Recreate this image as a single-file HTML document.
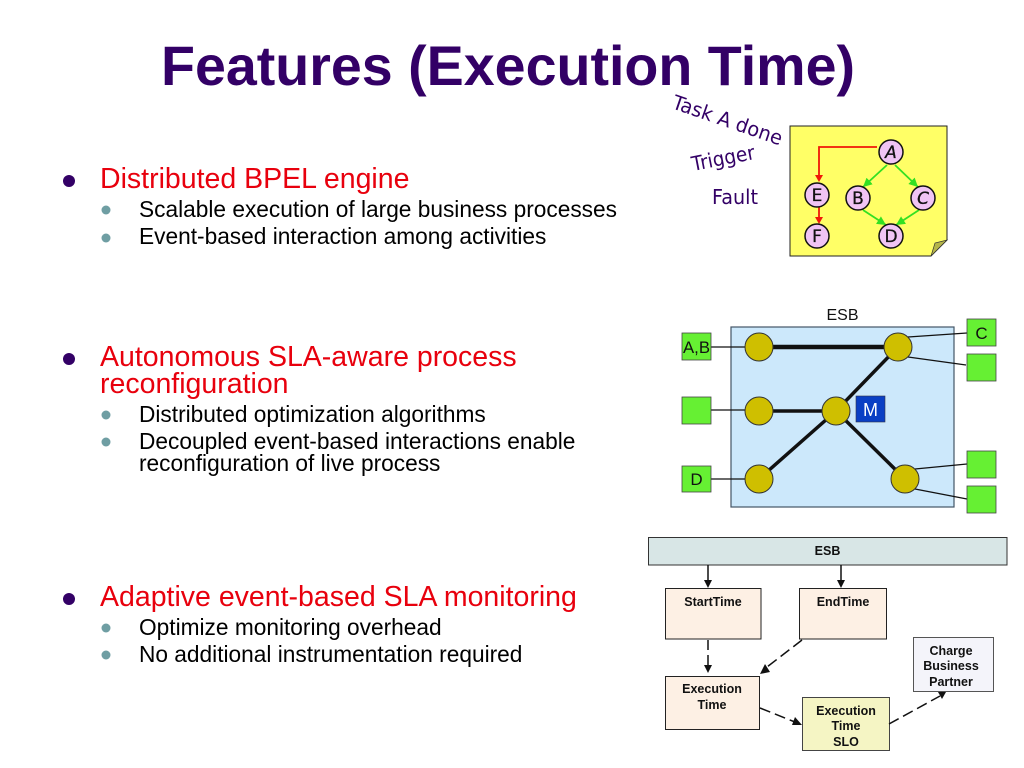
<!DOCTYPE html>
<html><head><meta charset="utf-8"><style>html,body{margin:0;padding:0;background:#fff;width:1024px;height:768px;overflow:hidden}svg{display:block}text{font-family:"Liberation Sans",sans-serif}.d{font-family:"DejaVu Sans",sans-serif}</style></head><body>
<svg width="1024" height="768" viewBox="0 0 1024 768" xmlns="http://www.w3.org/2000/svg">
<defs>
<marker id="g" markerUnits="userSpaceOnUse" markerWidth="10" markerHeight="10" refX="9" refY="5" orient="auto"><path d="M0,0.500L9,5L0,9.500z" fill="#33e022"/></marker>
</defs>
<text x="161" y="85" font-size="56" font-weight="bold" fill="#330066" textLength="694" lengthAdjust="spacingAndGlyphs">Features (Execution Time)</text>

<g fill="#330066"><circle cx="69" cy="181" r="6"/><circle cx="69" cy="359" r="6"/><circle cx="69" cy="599" r="6"/></g>
<g fill="#6f9ea3"><circle cx="106" cy="210" r="4.500"/><circle cx="106" cy="238" r="4.500"/><circle cx="106" cy="415" r="4.500"/><circle cx="106" cy="442" r="4.500"/><circle cx="106" cy="628" r="4.500"/><circle cx="106" cy="655" r="4.500"/></g>
<g font-size="28.500" fill="#e8000d">
<text x="100" y="188">Distributed BPEL engine</text>
<text x="100" y="366">Autonomous SLA-aware process</text>
<text x="100" y="393">reconfiguration</text>
<text x="100" y="606">Adaptive event-based SLA monitoring</text>
</g>
<g font-size="22.700" fill="#000">
<text x="139" y="217">Scalable execution of large business processes</text>
<text x="139" y="244">Event-based interaction among activities</text>
<text x="139" y="422">Distributed optimization algorithms</text>
<text x="139" y="449">Decoupled event-based interactions enable</text>
<text x="139" y="471">reconfiguration of live process</text>
<text x="139" y="635">Optimize monitoring overhead</text>
<text x="139" y="662">No additional instrumentation required</text>
</g>

<g fill="#330066" font-size="20">
<text class="d" transform="translate(671,108) rotate(19)" textLength="115" lengthAdjust="spacingAndGlyphs">Task A done</text>
<text class="d" transform="translate(693,171) rotate(-11)" textLength="64" lengthAdjust="spacingAndGlyphs">Trigger</text>
<text class="d" x="712" y="204" textLength="46" lengthAdjust="spacingAndGlyphs">Fault</text>
</g>
<path d="M790,126H947V240L931,256H790z" fill="#ffff66" stroke="#222" stroke-width="1"/>
<path d="M931,256L935,243L947,240z" fill="#b5b54a" stroke="#333" stroke-width="0.700"/>
<path d="M877,147H819V176" fill="none" stroke="#f01808" stroke-width="1.800"/>
<path d="M815,175H823L819,182z" fill="#f01808"/>
<path d="M819,206V218" stroke="#f01808" stroke-width="1.800"/>
<path d="M815,217H823L819,224z" fill="#f01808"/>
<g stroke="#33e022" stroke-width="1.800" fill="none">
<path d="M887,165L863,187" marker-end="url(#g)"/>
<path d="M895,165L918,187" marker-end="url(#g)"/>
<path d="M863,210L886,225" marker-end="url(#g)"/>
<path d="M919,210L896,225" marker-end="url(#g)"/>
</g>
<g fill="#f0c4f4" stroke="#111" stroke-width="1.500">
<circle cx="891" cy="152" r="12"/><circle cx="817" cy="195" r="12"/><circle cx="858" cy="198" r="12"/><circle cx="923" cy="198" r="12"/><circle cx="891" cy="236" r="12"/><circle cx="817" cy="236" r="12"/>
</g>
<g font-size="17" fill="#111" text-anchor="middle" stroke="#111" stroke-width="0.300">
<text class="d" x="891" y="158" font-style="italic">A</text>
<text class="d" x="817" y="201">E</text>
<text class="d" x="858" y="204">B</text>
<text class="d" x="923" y="204" font-style="italic">C</text>
<text class="d" x="891" y="242">D</text>
<text class="d" x="817" y="242">F</text>
</g>

<text x="842.500" y="320" font-size="16" text-anchor="middle" fill="#111">ESB</text>
<rect x="731" y="327" width="223" height="180" fill="#cce8fb" stroke="#445566" stroke-width="1.200"/>
<g stroke="#111" stroke-width="1.300" fill="none">
<path d="M711,347H746M711,410H746M711,479H746"/>
<path d="M908,337L967,333M908,357L966,365M915,469L967,464M915,489L967,499"/>
</g>
<g stroke="#111" fill="none">
<path d="M759,347H898" stroke-width="4.500"/>
<path d="M759,411H836M759,479L836,411L898,347M836,411L905,479" stroke-width="3.500"/>
</g>
<g fill="#cfbf00" stroke="#333" stroke-width="1">
<circle cx="759" cy="347" r="14"/><circle cx="898" cy="347" r="14"/><circle cx="759" cy="411" r="14"/><circle cx="836" cy="411" r="14"/><circle cx="759" cy="479" r="14"/><circle cx="905" cy="479" r="14"/>
</g>
<g fill="#66f033" stroke="#444" stroke-width="0.800">
<rect x="682" y="333" width="29" height="27"/><rect x="682" y="397" width="29" height="27"/><rect x="682" y="466" width="29" height="26"/>
<rect x="967" y="319" width="29" height="27"/><rect x="967" y="354" width="29" height="27"/><rect x="967" y="451" width="29" height="27"/><rect x="967" y="486" width="29" height="27"/>
</g>
<rect x="856" y="396" width="29" height="26" fill="#0a3fc4" stroke="#334" stroke-width="0.600"/>
<g font-size="17" fill="#111" text-anchor="middle">
<text x="696.500" y="353" textLength="27" lengthAdjust="spacingAndGlyphs">A,B</text>
<text x="696.500" y="485">D</text>
<text x="981.500" y="339">C</text>
<text x="870.500" y="416" fill="#fff" font-size="18">M</text>
</g>

<rect x="648.500" y="537.500" width="358.500" height="27.500" fill="#d8e6e6" stroke="#333" stroke-width="1"/>
<rect x="665.500" y="588.500" width="95.500" height="50.500" fill="#fdf0e4" stroke="#222"/>
<rect x="799.500" y="588.500" width="87" height="50.500" fill="#fdf0e4" stroke="#222"/>
<rect x="665.500" y="676.500" width="94" height="53" fill="#fdf0e4" stroke="#222"/>
<rect x="802.500" y="697.500" width="87" height="53" fill="#f5f5c4" stroke="#444"/>
<rect x="913.500" y="637.500" width="80" height="54" fill="#f4f4fa" stroke="#555"/>
<g font-size="12.500" font-weight="bold" fill="#111" text-anchor="middle">
<text x="827.500" y="555">ESB</text>
<text x="713" y="606">StartTime</text>
<text x="843" y="606">EndTime</text>
<text x="712" y="693">Execution</text><text x="712" y="709">Time</text>
<text x="846" y="715">Execution</text><text x="846" y="730">Time</text><text x="846" y="746">SLO</text>
<text x="951" y="655">Charge</text><text x="951" y="670">Business</text><text x="951" y="686">Partner</text>
</g>
<g stroke="#111" stroke-width="1.500" fill="none">
<path d="M708,565V581M841,565V581"/>
<path d="M708,640V666" stroke-dasharray="10,5"/>
<path d="M802,640L767,667" stroke-dasharray="11,5"/>
<path d="M760,708L795,722" stroke-dasharray="11,5"/>
<path d="M889,724L940,696" stroke-dasharray="11,5"/>
</g>
<g fill="#111">
<path d="M704,580H712L708,588z"/><path d="M837,580H845L841,588z"/>
<path d="M704,665H712L708,673z"/>
<path d="M760,674L770,672L765,664z"/>
<path d="M802,725L795,717L792,725z"/>
<path d="M938,692H946L942,699z"/>
</g>
</svg>
</body></html>
